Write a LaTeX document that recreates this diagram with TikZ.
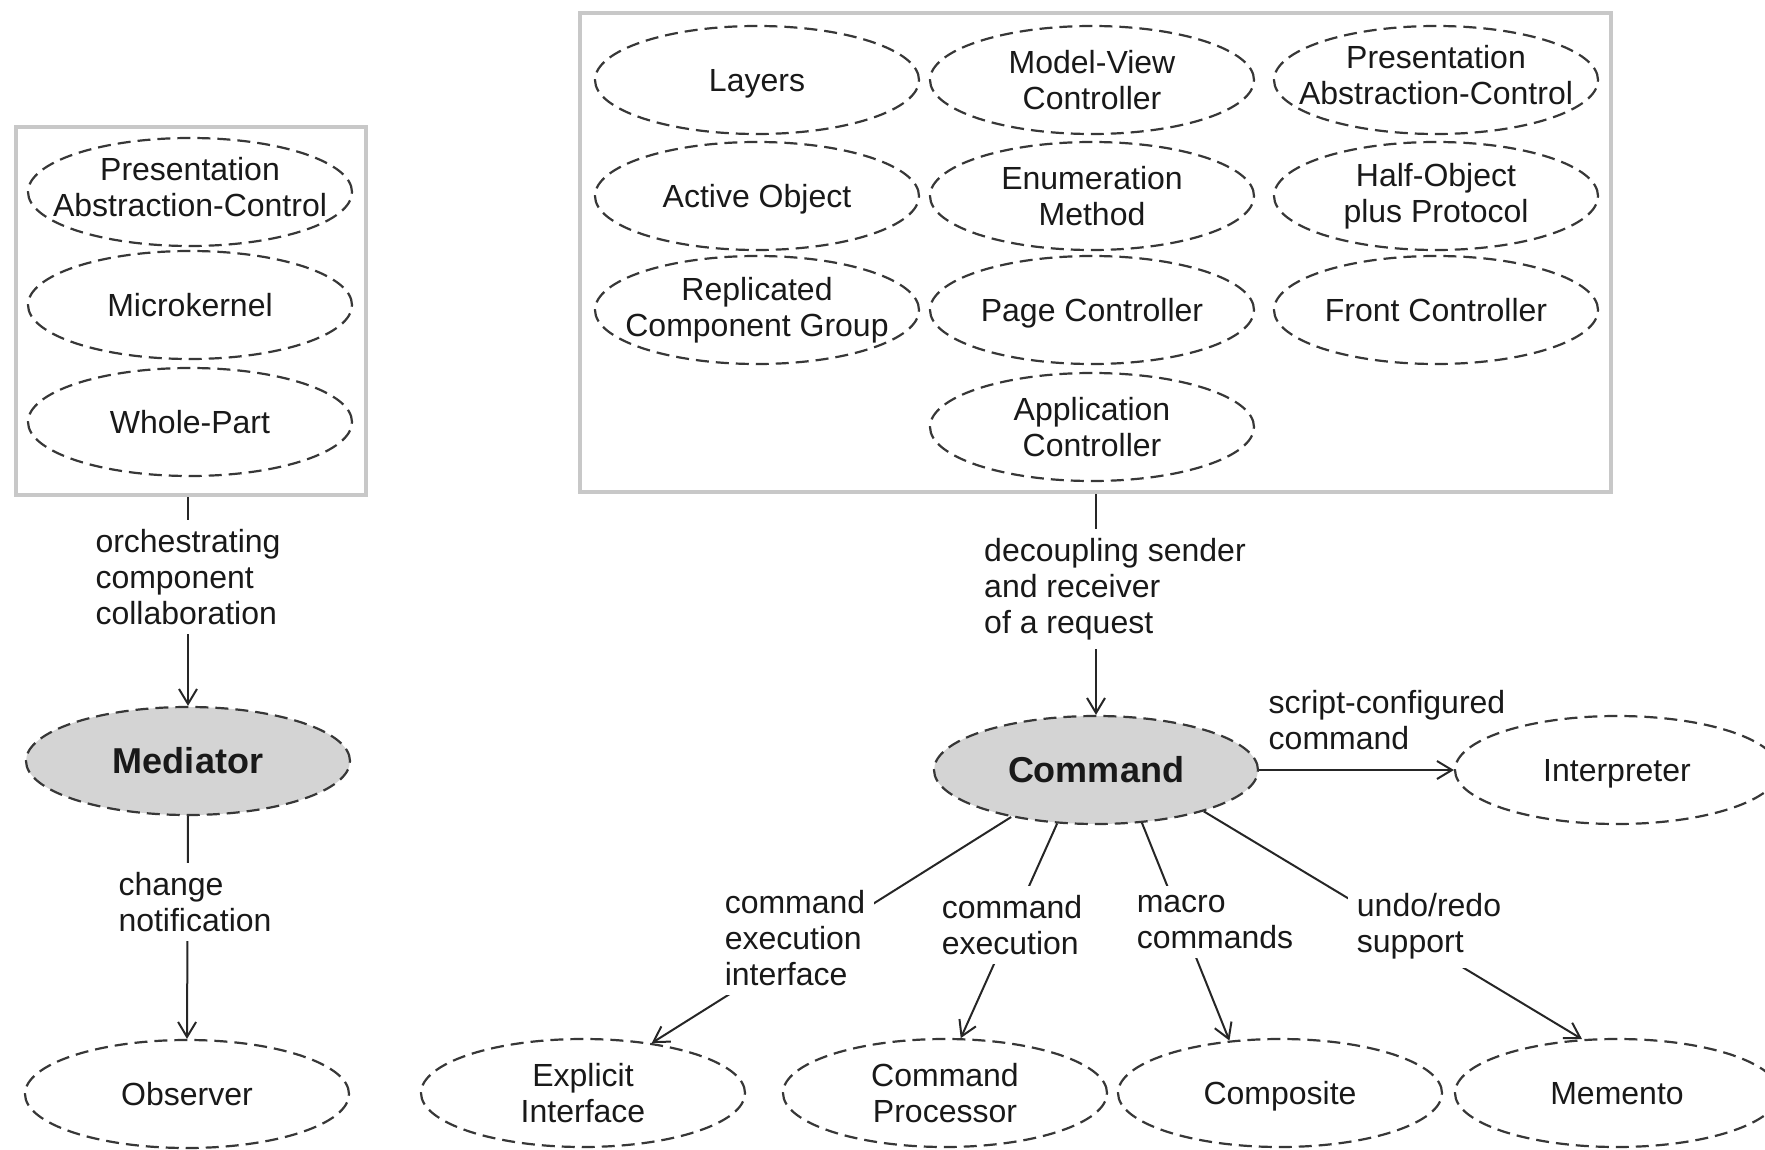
\documentclass[tikz,border=0pt]{standalone}
\usepackage{fontspec}
\setmainfont{Liberation Sans}
\usetikzlibrary{shapes.geometric,arrows.meta}
\definecolor{edge}{RGB}{55,55,55}
\definecolor{frame}{RGB}{200,200,200}
\definecolor{keyfill}{RGB}{212,212,212}
\begin{document}
\begin{tikzpicture}[x=1pt,y=-1pt,
  pat/.style={ellipse, draw=edge, line width=2.2pt, dash pattern=on 13pt off 7pt,
    minimum width=324pt, minimum height=108pt, inner xsep=-40pt, inner ysep=0pt,
    align=center, font=\fontsize{32}{36}\selectfont, text=black!90},
  one/.style={pat, text depth=0pt},
  raised/.style={pat, text depth=10pt},
  key/.style={pat, fill=keyfill, font=\fontsize{36}{40}\selectfont\bfseries},
  group/.style={draw=frame, line width=4pt, inner sep=0pt},
  lbl/.style={fill=white, align=left, inner sep=9pt, font=\fontsize{32}{36}\selectfont, text=black!90},
  link/.style={line width=2pt, draw=black!85},
  arr/.style={link, -{Straight Barb[length=15pt,width=18pt,line width=2pt]}},
]
\useasboundingbox (0,0) rectangle (1765,1150);

% left group
\node[group, minimum width=350pt, minimum height=368pt] (lbox) at (191,311) {};
\node[raised] (pac1) at (190,192) {Presentation\\Abstraction-Control};
\node[one] (mk)   at (190,305) {Microkernel};
\node[one] (wp)   at (190,422) {Whole-Part};

% right group
\node[group, minimum width=1031pt, minimum height=479pt] (rbox) at (1095.5,252.5) {};
\node[one] (lay)  at (757,80)   {Layers};
\node[pat] (mvc)  at (1092,80)  {Model-View\\Controller};
\node[raised] (pac2) at (1436,80)  {Presentation\\Abstraction-Control};
\node[one] (ao)   at (757,196)  {Active Object};
\node[pat] (em)   at (1092,196) {Enumeration\\Method};
\node[pat] (hop)  at (1436,196) {Half-Object\\plus Protocol};
\node[pat] (rcg)  at (757,310)  {Replicated\\Component Group};
\node[one] (pc)   at (1092,310) {Page Controller};
\node[one] (fc)   at (1436,310) {Front Controller};
\node[pat] (ac)   at (1092,427) {Application\\Controller};

% central patterns
\node[key] (med) at (188,761) {Mediator};
\node[key] (cmd) at (1096,770) {Command};

% related patterns
\node[one] (obs)  at (187,1094)  {Observer};
\node[one] (intp) at (1617,770)  {Interpreter};
\node[pat] (ei)   at (583,1093)  {Explicit\\Interface};
\node[pat] (cp)   at (945,1093)  {Command\\Processor};
\node[one] (comp) at (1280,1093) {Composite};
\node[one] (mem)  at (1617,1093) {Memento};

% connectors
\draw[arr] (med.north |- lbox.south) -- (med.north);
\draw[arr] (med.south) -- (obs.north);
\draw[arr] (cmd.north |- rbox.south) -- (cmd.north);
\draw[arr] (cmd.east) -- (intp.west);
\draw[arr] (cmd.209) -- (ei.36);
\draw[arr] (cmd.234) -- (cp.74);
\draw[arr] (cmd.311.5) -- (comp.134);
\draw[arr] (cmd.339.5) -- (mem.123);

% connector labels
\node[lbl] (l1) at (188,577)  {orchestrating\\component\\collaboration};
\node[lbl] (l2) at (195,902)  {change\\notification};
\node[lbl] (l3) at (1115,589) {decoupling sender\\and receiver\\of a request};
\node[lbl, fill=none] (l4) at (1387,720) {script-configured\\command};
\node[lbl] (l5) at (795,938)  {command\\execution\\interface};
\node[lbl] (l6) at (1012,925) {command\\execution};
\node[lbl] (l7) at (1215,922) {macro\\commands};
\node[lbl] (l8) at (1429,926) {undo/redo\\support};
\end{tikzpicture}
\end{document}
